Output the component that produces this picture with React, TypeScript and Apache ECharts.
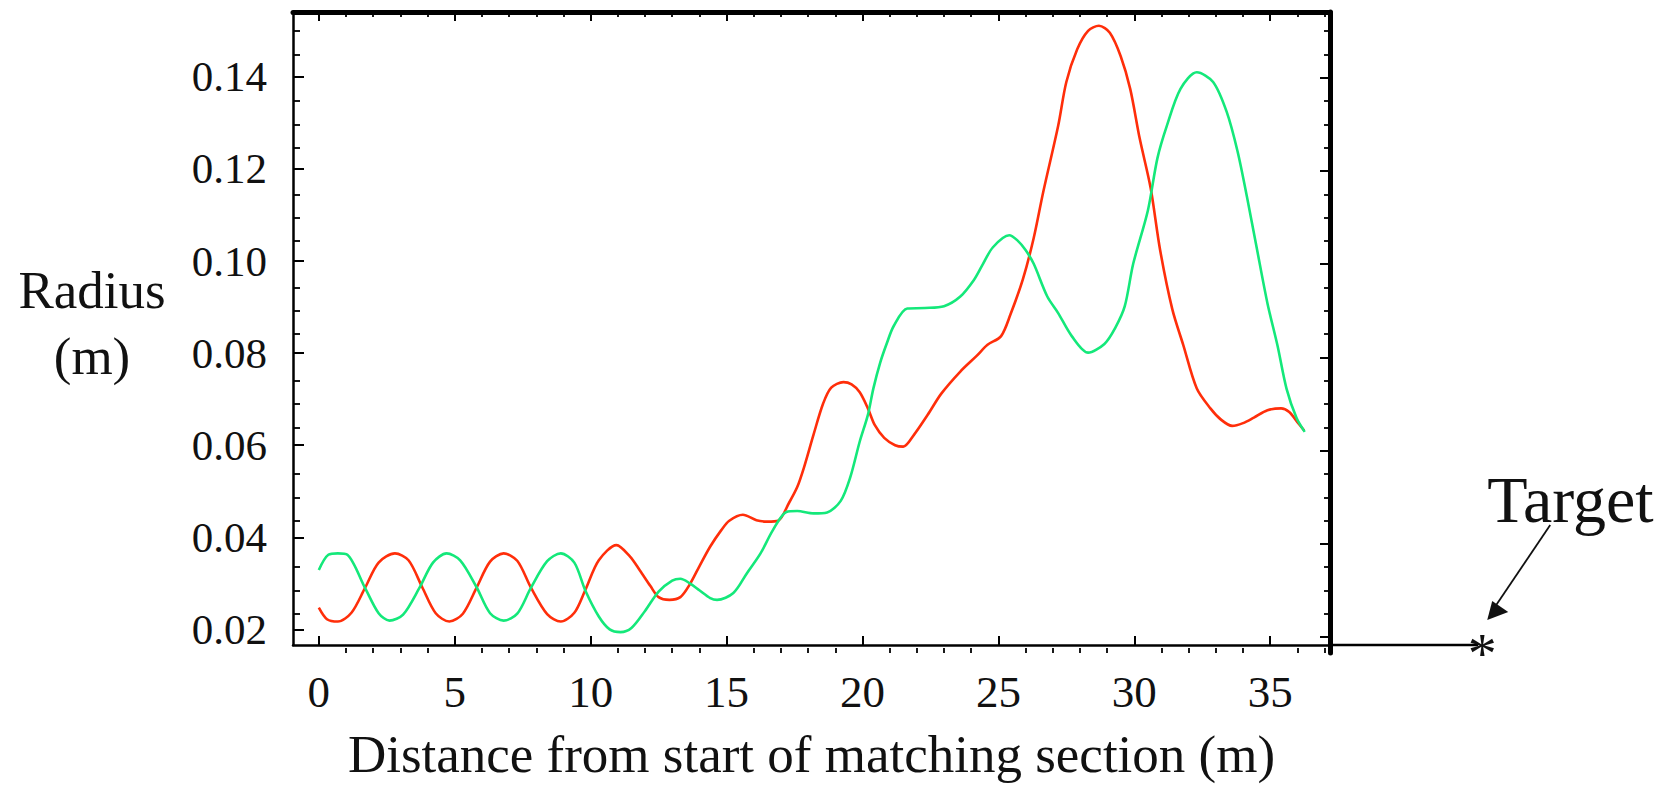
import React, { useEffect, useRef } from "react";
import * as echarts from "echarts";

// Axis ranges (data units)
const X_MIN = -0.95;
const X_MAX = 37.2;
const Y_MIN = 0.0166;
const Y_MAX = 0.1541;

// Tick values
const X_MAJOR = [0, 5, 10, 15, 20, 25, 30, 35];
const X_MINOR = [1, 2, 3, 4, 6, 7, 8, 9, 11, 12, 13, 14, 16, 17, 18, 19, 21, 22, 23, 24, 26, 27, 28, 29, 31, 32, 33, 34, 36, 37];
const Y_MAJOR = [0.02, 0.04, 0.06, 0.08, 0.1, 0.12, 0.14];
const Y_MINOR = [0.025, 0.03, 0.035, 0.045, 0.05, 0.055, 0.065, 0.07, 0.075, 0.085, 0.09, 0.095, 0.105, 0.11, 0.115, 0.125, 0.13, 0.135, 0.145, 0.15];

// Target position along the beamline (m)
const TARGET_DIST = 42.8;

// Red envelope: [distance (m), radius (m)]
const redEnvelope: [number, number][] = [
  [0, 0.0247], [0.3, 0.0222], [0.7, 0.0217], [1.2, 0.0236], [1.7, 0.029], [2.2, 0.0345],
  [2.8, 0.0365], [3.3, 0.035], [3.8, 0.0292], [4.3, 0.0235], [4.8, 0.0217], [5.3, 0.0234],
  [5.8, 0.029], [6.3, 0.0347], [6.8, 0.0365], [7.3, 0.0349], [7.8, 0.0291], [8.4, 0.0233],
  [8.9, 0.0217], [9.4, 0.0236], [9.8, 0.0285], [10.3, 0.035], [10.95, 0.0383], [11.45, 0.0358],
  [11.8, 0.0329], [12.2, 0.0294], [12.5, 0.027], [12.9, 0.0264], [13.3, 0.027], [13.65, 0.0298],
  [14.0, 0.0337], [14.4, 0.038], [14.8, 0.0415], [15.1, 0.0436], [15.6, 0.0449], [16.1, 0.0437],
  [16.5, 0.0434], [16.9, 0.0436], [17.3, 0.0475], [17.6, 0.0509], [17.85, 0.0552], [18.2, 0.0623],
  [18.55, 0.069], [18.85, 0.0725], [19.3, 0.0737], [19.6, 0.0732], [19.9, 0.0715], [20.2, 0.068],
  [20.45, 0.0644], [20.8, 0.0616], [21.2, 0.06], [21.5, 0.0597], [21.9, 0.0623], [22.4, 0.0666],
  [22.9, 0.0712], [23.6, 0.076], [24.2, 0.0794], [24.6, 0.0818], [25.1, 0.0837], [25.45, 0.0885],
  [25.9, 0.096], [26.3, 0.105], [26.65, 0.115], [27.2, 0.1294], [27.5, 0.1389], [27.9, 0.146],
  [28.3, 0.15], [28.7, 0.1511], [29.1, 0.1496], [29.5, 0.1445], [29.85, 0.1374], [30.2, 0.1266],
  [30.6, 0.1159], [30.95, 0.1024], [31.4, 0.0895], [31.8, 0.0818], [32.3, 0.0723], [32.8, 0.068],
  [33.2, 0.0655], [33.6, 0.0642], [34.0, 0.0648], [34.4, 0.066], [34.9, 0.0676], [35.4, 0.068],
  [35.7, 0.0672], [36.0, 0.065], [36.25, 0.0632],
];

// Green envelope: [distance (m), radius (m)]
const greenEnvelope: [number, number][] = [
  [0, 0.0329], [0.35, 0.0362], [0.7, 0.0365], [1.05, 0.0362], [1.7, 0.029], [2.2, 0.0235],
  [2.6, 0.0219], [3.1, 0.0232], [3.7, 0.029], [4.2, 0.0345], [4.7, 0.0365], [5.2, 0.035],
  [5.8, 0.0292], [6.3, 0.0235], [6.8, 0.0219], [7.3, 0.0234], [7.8, 0.029], [8.4, 0.0348],
  [8.9, 0.0365], [9.4, 0.0345], [9.8, 0.0285], [10.3, 0.0228], [10.7, 0.02], [11.1, 0.0194],
  [11.5, 0.0203], [12.0, 0.024], [12.5, 0.0282], [13.0, 0.0306], [13.3, 0.031], [13.65, 0.03],
  [14.0, 0.0285], [14.4, 0.0268], [14.65, 0.0264], [15.25, 0.0279], [15.75, 0.0322], [16.25, 0.0365],
  [16.7, 0.0415], [17.2, 0.0455], [17.6, 0.0457], [18.2, 0.0452], [18.7, 0.0454], [19.2, 0.0479],
  [19.55, 0.053], [19.9, 0.0608], [20.2, 0.0666], [20.4, 0.0723], [20.65, 0.0779], [20.9, 0.0822],
  [21.15, 0.0859], [21.65, 0.0897], [22.3, 0.0898], [23.0, 0.0902], [23.6, 0.0923], [24.1, 0.0959],
  [24.4, 0.099], [24.8, 0.103], [25.4, 0.1056], [25.7, 0.1045], [26.0, 0.1024], [26.3, 0.0994],
  [26.8, 0.0923], [27.2, 0.0887], [27.7, 0.0837], [28.3, 0.0801], [28.9, 0.082], [29.3, 0.0855],
  [29.65, 0.0902], [29.96, 0.0994], [30.5, 0.111], [30.85, 0.1223], [31.2, 0.1294], [31.7, 0.1374],
  [32.3, 0.141], [32.9, 0.1389], [33.4, 0.1324], [33.8, 0.1238], [34.15, 0.1138], [34.5, 0.103],
  [34.9, 0.0908], [35.27, 0.0816], [35.6, 0.0723], [35.97, 0.0659], [36.27, 0.0629],
];

const FONT = '"Liberation Serif", "Times New Roman", Times, serif';
const INK = "#111";
const RED = "#ff2e0a";
const GREEN = "#14e87a";

export default function App() {
  const ref = useRef<HTMLDivElement>(null);

  useEffect(() => {
    if (!ref.current) return;
    const chart = echarts.init(ref.current, null, { renderer: "svg" });

    const gridRect = { left: 293, right: 341, top: 12, bottom: 132, containLabel: false };

    const hiddenLine = { show: false, onZero: false };
    const xBase = (gridIndex: number, position: string) => ({
      type: "value",
      gridIndex,
      position,
      min: X_MIN,
      max: X_MAX,
      splitLine: { show: false },
      axisLabel: { show: false },
      axisLine: hiddenLine,
    });
    const yBase = (gridIndex: number, position: string) => ({
      type: "value",
      gridIndex,
      position,
      min: Y_MIN,
      max: Y_MAX,
      splitLine: { show: false },
      axisLabel: { show: false },
      axisLine: hiddenLine,
    });
    const tick = (values: number[], length: number, width = 2) => ({
      show: true,
      inside: true,
      length,
      customValues: values,
      lineStyle: { color: "#000", width },
    });

    const option: any = {
      animation: false,
      backgroundColor: "#fff",
      // four coincident grids: main, minor (bottom/left), major (top/right), minor (top/right)
      grid: [gridRect, gridRect, gridRect, gridRect],
      xAxis: [
        {
          ...xBase(0, "bottom"),
          axisLine: { show: true, onZero: false, lineStyle: { color: "#000", width: 2.5 } },
          axisTick: tick(X_MAJOR, 9),
          axisLabel: {
            show: true,
            customValues: X_MAJOR,
            margin: 24,
            fontFamily: FONT,
            fontSize: 45,
            lineHeight: 45,
            color: INK,
          },
          name: "Distance from start of matching section (m)",
          nameLocation: "middle",
          nameGap: 82,
          nameTextStyle: { fontFamily: FONT, fontSize: 53, lineHeight: 53, color: INK },
        },
        { ...xBase(1, "bottom"), axisTick: tick(X_MINOR, 5, 1.8) },
        {
          ...xBase(2, "top"),
          axisLine: { show: true, onZero: false, lineStyle: { color: "#000", width: 5 } },
          axisTick: tick(X_MAJOR, 9),
        },
        { ...xBase(3, "top"), axisTick: tick(X_MINOR, 5, 1.8) },
      ],
      yAxis: [
        {
          ...yBase(0, "left"),
          axisLine: { show: true, onZero: false, lineStyle: { color: "#000", width: 2.5 } },
          axisTick: tick(Y_MAJOR, 11),
          axisLabel: {
            show: true,
            customValues: Y_MAJOR,
            margin: 26,
            fontFamily: FONT,
            fontSize: 43,
            color: INK,
            formatter: (v: number) => v.toFixed(2),
          },
        },
        { ...yBase(1, "left"), axisTick: tick(Y_MINOR, 7, 1.8) },
        {
          ...yBase(2, "right"),
          axisLine: { show: true, onZero: false, lineStyle: { color: "#000", width: 5 } },
          axisTick: tick(Y_MAJOR, 10),
        },
        { ...yBase(3, "right"), axisTick: tick(Y_MINOR, 6, 1.8) },
      ],
      series: [
        {
          name: "Red",
          type: "line",
          xAxisIndex: 0,
          yAxisIndex: 0,
          data: redEnvelope,
          showSymbol: false,
          smooth: 0.3,
          lineStyle: { color: RED, width: 2.6 },
          itemStyle: { color: RED },
          z: 3,
        },
        {
          name: "Green",
          type: "line",
          xAxisIndex: 0,
          yAxisIndex: 0,
          data: greenEnvelope,
          showSymbol: false,
          smooth: 0.3,
          lineStyle: { color: GREEN, width: 2.6 },
          itemStyle: { color: GREEN },
          z: 3,
        },
      ],
    };

    chart.setOption(option);

    const [tx, ty] = chart.convertToPixel({ xAxisIndex: 0, yAxisIndex: 0 }, [TARGET_DIST, Y_MIN]) as number[];
    const [rx] = chart.convertToPixel({ xAxisIndex: 0, yAxisIndex: 0 }, [X_MAX, Y_MIN]) as number[];
    const [lx, ly] = chart.convertToPixel({ xAxisIndex: 0, yAxisIndex: 0 }, [X_MIN, Y_MAX]) as number[];

    chart.setOption({
      graphic: [
        // y-axis title
        {
          type: "text",
          x: lx - 201,
          y: ly + 278,
          style: { text: "Radius", fontFamily: FONT, fontSize: 53, fill: INK, align: "center", verticalAlign: "middle" },
        },
        {
          type: "text",
          x: lx - 201,
          y: ly + 344,
          style: { text: "(m)", fontFamily: FONT, fontSize: 53, fill: INK, align: "center", verticalAlign: "middle" },
        },
        // extension of the beamline to the target
        {
          type: "line",
          shape: { x1: rx, y1: ty, x2: tx - 4, y2: ty },
          style: { stroke: "#000", lineWidth: 2.5 },
        },
        {
          type: "text",
          x: tx,
          y: ty + 8,
          style: { text: "*", fontFamily: FONT, fontSize: 58, fill: INK, align: "center", verticalAlign: "middle" },
        },
        {
          type: "line",
          shape: { x1: tx + 68, y1: ty - 120, x2: tx + 14, y2: ty - 40 },
          style: { stroke: INK, lineWidth: 1.8 },
        },
        {
          type: "polygon",
          shape: { points: [[tx + 5, ty - 25], [tx + 10, ty - 44], [tx + 26, ty - 33]] },
          style: { fill: INK },
        },
        {
          type: "text",
          x: tx + 5,
          y: ty - 146,
          style: { text: "Target", fontFamily: FONT, fontSize: 66, fill: INK, align: "left", verticalAlign: "middle" },
        },
      ],
    });

    return () => chart.dispose();
  }, []);

  return (
    <div
      ref={ref}
      style={{ position: "fixed", left: 0, top: 0, width: "1671px", height: "785px", background: "#fff" }}
    />
  );
}
